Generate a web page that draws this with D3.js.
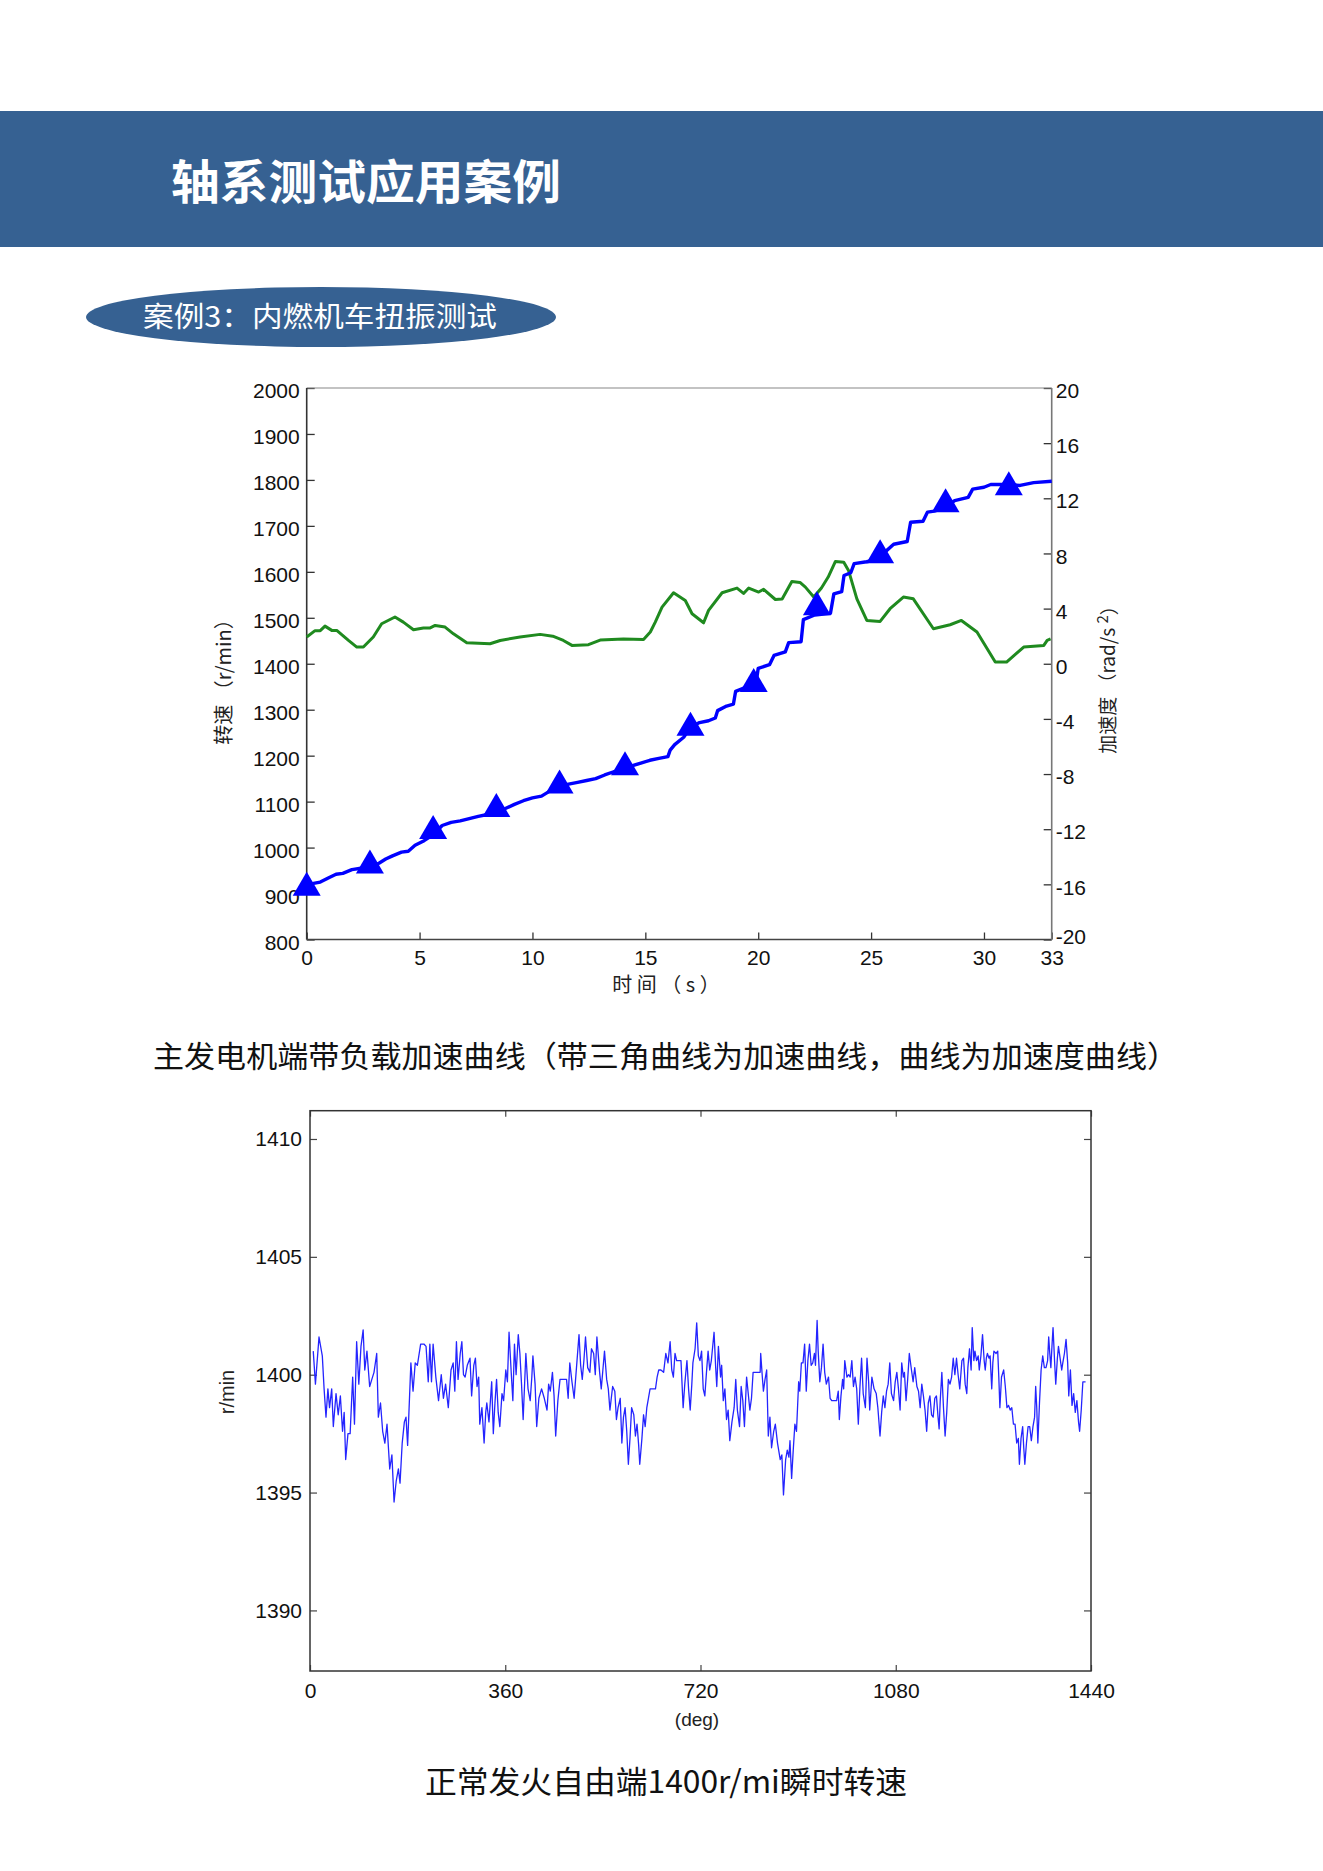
<!DOCTYPE html>
<html><head><meta charset="utf-8">
<script src="https://cdn.jsdelivr.net/npm/d3@7/dist/d3.min.js"></script>
<style>
html,body{margin:0;padding:0;background:#fff;}
svg{display:block;}
.tk text{font-family:"Liberation Sans",Arial,sans-serif;font-size:21px;fill:#111;}
.cjk{font-family:"Noto Sans CJK SC","Noto Sans",sans-serif;}
</style></head>
<body>
<svg id="page" width="1323" height="1871"></svg>
<script>
// ---------- Chart 1: acceleration run (time in s) ----------
const speedT = [0,0.3,0.6,1.0,1.3,1.6,2.0,2.4,2.8,3.2,3.5,3.8,4.2,4.5,4.8,5.2,5.6,6.0,6.4,6.8,7.2,7.6,8.0,8.4,8.8,9.2,9.6,10.0,10.4,10.8,11.2,11.6,12.0,12.4,12.8,13.2,13.6,14.0,14.4,14.8,15.2,15.6,16.0,16.1,16.3,16.7,17.0,17.4,17.8,18.1,18.2,18.6,18.9,19.0,19.5,19.9,20.0,20.5,20.7,21.2,21.35,21.9,22.0,22.5,23.2,23.35,23.7,23.8,24.1,24.25,24.8,25.4,25.5,26.0,26.6,26.75,27.3,27.5,27.8,28.3,28.7,29.3,29.5,30.0,30.3,31.0,31.6,32.2,33.0];
const speedV = [912,922,925,935,942,944,952,955,958,966,975,982,990,992,1005,1015,1028,1048,1055,1058,1063,1068,1072,1078,1085,1094,1102,1108,1112,1124,1132,1138,1142,1146,1150,1158,1165,1168,1178,1184,1190,1194,1198,1212,1224,1240,1262,1272,1276,1282,1298,1308,1312,1340,1350,1356,1390,1398,1418,1426,1446,1448,1496,1506,1510,1552,1557,1592,1598,1618,1622,1628,1638,1660,1666,1708,1710,1730,1732,1740,1755,1762,1780,1784,1790,1790,1788,1794,1797];
const markerT = [0,2.8,5.6,8.4,11.2,14.1,17.0,19.8,22.6,25.4,28.3,31.1];
const markerV = [915,963,1038,1086,1137,1177,1263,1358,1525,1638,1749,1786];
const accT = [0,0.37,0.6,0.81,1.11,1.33,1.85,2.22,2.51,2.95,3.32,3.91,4.28,4.73,5.17,5.47,5.69,6.13,6.5,7.09,8.12,8.57,9.45,10.34,10.9,11.37,11.75,12.48,13.0,14.03,14.92,15.22,15.44,15.74,16.25,16.77,17.07,17.58,17.8,18.4,19.06,19.35,19.58,20.02,20.24,20.76,21.06,21.49,21.85,22.09,22.46,22.8,23.1,23.42,23.79,24.0,24.37,24.81,25.4,25.84,26.43,26.87,27.76,28.5,29.0,29.69,30.5,31.0,31.76,32.65,32.8,32.95];
const accV = [1.94,2.4,2.4,2.73,2.42,2.42,1.69,1.21,1.21,1.94,2.9,3.39,3.02,2.47,2.59,2.6,2.78,2.66,2.17,1.52,1.45,1.69,1.94,2.13,2.0,1.69,1.33,1.38,1.72,1.8,1.76,2.3,3.02,4.11,5.15,4.59,3.63,2.97,3.87,5.15,5.49,5.1,5.49,5.2,5.4,4.66,4.7,5.97,5.9,5.56,4.84,5.5,6.29,7.42,7.37,6.77,4.71,3.14,3.07,3.99,4.84,4.71,2.54,2.83,3.14,2.3,0.12,0.12,1.21,1.33,1.7,1.8];
const timeTicks = [0,5,10,15,20,25,30,33];
const speedTicks = [800,900,1000,1100,1200,1300,1400,1500,1600,1700,1800,1900,2000];
const accTicks = [-20,-16,-12,-8,-4,0,4,8,12,16,20];

// ---------- Chart 2: instantaneous speed over crank angle ----------
const crankDeg = [6,10,16.6,22.7,26,29.5,33,36,40,43,48,52,56,60,63,65.8,70,74,78.7,82,86,90,94,98,101,105,110,114,118,123,126,130,134,138,142,147,151,155,159,163,166,170,174,177,180,186,190,194,198,204,210,214,218,221,224,227,232,237,242,246,250,255,260,264,267,270,273,277,280,283,286,290,295,298,302,305,308,311,313,317,321,324,326,330,335,338,341,344,347,350,354,357,361,364,367,371,374,377,380,384,387,390,393,398,402,406,409,411,415,418,422,427,432,437,440,443,447,450,453,457,461,466,470,473,476,479,483,487,492,496,499,502,505,508,512,516,519,523,526,529,534,537,540,543,547,550,553,558,562,565,568,572,575,578,581,584,587,590,593,597,600,603,606,608,612,615,618,621,624,627,632,637,640,643,647,652,656,660,664,667,670,673,676,680,684,688,691,695,698,701,704,706,710,713,716,719,722,725,728,731,734,737,740,745,748,750,753,757,759,762,765,768,771,774,778,782,785,788,792,795,798,801,805,808,811,814,817,823,830,831,834,836,839,842,845,848,851,855,858,862,867,870,873,877,880,883,885,888,891,894,897,901,903,906,909,912,915,918,921,924,927,930,932,935,937,940,943,946,949,952,956,959,962,967,971,974,976,979,982,984,986,990,993,996,999,1002,1005,1008,1011,1014,1017,1020,1024,1027,1030,1032,1036,1040,1044,1047,1051,1054,1057,1060,1063,1066,1069,1072,1076,1079,1082,1085,1088,1091,1094,1096,1099,1102,1105,1109,1112,1115,1119,1122,1125,1128,1131,1134,1137,1140,1143,1146,1149,1152,1155,1158,1160,1162,1165,1168,1171,1174,1177,1180,1183,1186,1189,1192,1195,1198,1202,1205,1208,1211,1213,1216,1219,1221,1224,1226,1229,1232,1234,1237,1240,1243,1245,1247,1249,1252,1254,1257,1259,1261,1265,1268,1270,1272,1275,1279,1282,1285,1288,1291,1294,1297,1300,1303,1306,1308,1311,1314,1316,1318,1321,1324,1327,1330,1333,1336,1338,1340,1342,1345,1348,1351,1354,1357,1360,1362,1364,1366,1368,1370,1373,1375,1378,1380,1383,1386,1388,1391,1394,1397,1399,1402,1405,1408,1411,1414,1417,1419,1422,1425,1430];
const crankRpm = [1401.0,1399.6,1401.6,1400.8,1399.4,1398.2,1399.4,1398.6,1399.4,1397.8,1399.2,1398.3,1399.1,1397.6,1398.4,1396.4,1397.5,1397.5,1399.9,1397.9,1401.4,1399.6,1401.2,1401.9,1400.2,1401.0,1399.5,1399.8,1400.1,1400.9,1398.2,1398.8,1397.6,1397.1,1397.9,1396.0,1396.6,1394.6,1395.5,1396.0,1395.4,1397.1,1398.0,1398.2,1397.0,1400.5,1399.3,1400.5,1400.4,1401.3,1401.3,1401.2,1399.7,1401.3,1399.7,1401.3,1399.9,1398.9,1400.0,1399.0,1399.6,1398.6,1400.2,1400.5,1399.3,1401.4,1399.8,1400.9,1401.4,1400.0,1399.9,1400.4,1400.7,1399.1,1400.4,1400.7,1399.5,1399.9,1397.9,1398.6,1397.1,1398.4,1398.8,1398.0,1399.7,1397.5,1398.8,1399.8,1398.4,1397.8,1399.2,1398.9,1400.2,1399.7,1401.8,1400.1,1398.9,1401.3,1400.0,1401.7,1400.9,1399.6,1398.1,1400.9,1399.4,1398.9,1399.9,1400.8,1399.6,1397.8,1399.0,1399.4,1399.0,1398.5,1399.6,1399.3,1400.1,1399.1,1397.4,1398.9,1399.8,1399.8,1399.8,1399.8,1399.0,1400.5,1399.7,1399.0,1400.5,1401.7,1400.4,1399.8,1400.6,1401.6,1400.3,1400.1,1401.1,1400.9,1400.0,1401.6,1400.1,1399.4,1400.2,1401.0,1399.8,1399.4,1398.5,1399.5,1399.3,1398.1,1398.6,1399.0,1397.1,1398.2,1398.6,1397.6,1396.2,1397.3,1398.6,1398.3,1397.4,1397.9,1397.0,1396.2,1397.3,1398.3,1397.8,1398.6,1399.0,1399.4,1399.4,1399.4,1399.9,1400.2,1400.2,1400.1,1400.9,1400.5,1401.4,1400.2,1399.9,1400.9,1400.6,1400.6,1400.6,1398.6,1399.6,1400.6,1399.4,1398.5,1399.6,1400.5,1401.1,1402.2,1400.8,1400.6,1401.0,1399.4,1399.1,1400.1,1401.0,1400.2,1400.6,1401.8,1400.3,1399.5,1401.2,1399.9,1400.4,1398.9,1399.4,1398.1,1398.5,1397.2,1398.0,1398.6,1399.8,1398.5,1397.8,1399.5,1398.9,1397.8,1399.9,1399.2,1398.5,1399.0,1400.1,1400.1,1400.1,1400.9,1399.9,1399.3,1399.8,1400.2,1397.4,1398.2,1396.9,1397.6,1397.9,1397.1,1396.4,1396.6,1394.9,1396.4,1396.8,1396.5,1397.2,1395.6,1396.8,1397.9,1397.6,1399.7,1399.3,1400.5,1400.5,1401.3,1399.3,1400.6,1401.3,1400.4,1400.5,1400.9,1400.4,1402.3,1401.0,1399.7,1400.3,1401.3,1400.1,1399.6,1399.9,1399.0,1398.9,1398.9,1398.9,1399.3,1398.1,1399.1,1399.8,1399.4,1400.6,1399.9,1400.0,1399.9,1400.6,1399.5,1399.9,1399.4,1397.9,1399.5,1400.7,1399.2,1398.6,1400.7,1399.7,1398.5,1399.9,1399.4,1399.2,1398.6,1397.4,1398.4,1399.1,1398.6,1399.3,1399.6,1400.5,1399.2,1398.9,1399.7,1400.1,1399.4,1398.5,1400.5,1399.9,1400.1,1398.9,1399.8,1400.9,1400.2,1399.7,1400.3,1399.5,1399.3,1398.6,1399.6,1399.1,1398.5,1397.6,1398.8,1399.1,1398.3,1398.2,1399.0,1399.1,1398.2,1397.7,1398.9,1400.1,1398.6,1397.4,1398.4,1399.8,1399.6,1399.9,1400.7,1400.0,1400.7,1400.0,1399.4,1400.6,1400.7,1399.6,1399.2,1400.3,1401.1,1400.2,1402.0,1400.6,1401.0,1400.6,1400.8,1400.2,1400.8,1401.7,1400.6,1400.2,1400.7,1400.9,1400.7,1400.8,1399.4,1400.5,1401.0,1400.9,1401.0,1399.9,1398.6,1399.9,1400.2,1399.5,1398.6,1398.7,1398.5,1398.6,1397.9,1397.9,1397.1,1397.3,1396.2,1397.3,1397.8,1396.9,1396.2,1397.1,1397.8,1397.8,1397.2,1397.8,1398.2,1399.5,1398.6,1397.1,1398.8,1400.2,1400.8,1400.3,1400.3,1400.6,1401.6,1400.9,1400.3,1401.2,1402.0,1400.5,1399.6,1400.7,1401.2,1400.7,1400.2,1400.5,1400.9,1401.5,1400.5,1399.1,1400.2,1398.7,1399.2,1398.4,1398.9,1398.0,1397.6,1398.5,1399.7,1399.7];
const degTicks = [0,360,720,1080,1440];
const rpmTicks = [1390,1395,1400,1405,1410];

// ---------- Text ----------
const pageTitle = "轴系测试应用案例";
const caseTitle = "案例3：内燃机车扭振测试";
const caption1 = "主发电机端带负载加速曲线（带三角曲线为加速曲线，曲线为加速度曲线）";
const caption2 = "正常发火自由端1400r/mi瞬时转速";

const svg = d3.select("#page");
const fmt = d => String(d);

// header band
svg.append("rect").attr("x",0).attr("y",111).attr("width",1323).attr("height",136).attr("fill","#366192");
svg.append("text").attr("class","cjk").attr("x",171).attr("y",182).attr("dy","0.36em")
  .attr("font-size",47).attr("font-weight","bold").attr("fill","#fff")
  .attr("textLength",390).attr("lengthAdjust","spacingAndGlyphs").text(pageTitle);

// case ellipse
svg.append("ellipse").attr("cx",321).attr("cy",317).attr("rx",235).attr("ry",30).attr("fill","#366192");
svg.append("text").attr("class","cjk").attr("x",143).attr("y",317).attr("dy","0.36em")
  .attr("font-size",28).attr("fill","#fff")
  .attr("textLength",354).attr("lengthAdjust","spacingAndGlyphs").text(caseTitle);

// ---------- chart 1 ----------
const x1 = d3.scaleLinear().domain([0,33]).range([306.7,1051.7]);
const yL = d3.scaleLinear().domain([800,2000]).range([939.5,388]);
const yR = d3.scaleLinear().domain([-20,20]).range([939.5,388]);
const c1 = svg.append("g");

const gl = c1.append("g").attr("class","tk").attr("transform","translate(306.7,0)")
  .call(d3.axisLeft(yL).tickValues(speedTicks).tickSize(-8).tickPadding(7).tickFormat(fmt));
const gr = c1.append("g").attr("class","tk").attr("transform","translate(1051.7,0)")
  .call(d3.axisRight(yR).tickValues(accTicks).tickSize(-8).tickPadding(4).tickFormat(fmt));
const gb = c1.append("g").attr("class","tk").attr("transform","translate(0,939.5)")
  .call(d3.axisBottom(x1).tickValues(timeTicks).tickSize(-7).tickPadding(11).tickFormat(fmt));
[gl,gr,gb].forEach(g=>{g.select(".domain").remove(); g.selectAll(".tick line").attr("stroke","#333").attr("stroke-width",1.3);});
gl.selectAll("text").attr("dy","0.46em");
gr.selectAll("text").attr("dy",d => d === -20 ? "0.2em" : "0.46em");

// frame
c1.append("line").attr("x1",306.7).attr("x2",1051.7).attr("y1",388).attr("y2",388).attr("stroke","#888").attr("stroke-width",1.2);
c1.append("line").attr("x1",306.7).attr("x2",306.7).attr("y1",388).attr("y2",939.5).attr("stroke","#333").attr("stroke-width",1.6);
c1.append("line").attr("x1",306.7).attr("x2",1051.7).attr("y1",939.5).attr("y2",939.5).attr("stroke","#444").attr("stroke-width",1.6);
c1.append("line").attr("x1",1051.7).attr("x2",1051.7).attr("y1",388).attr("y2",939.5).attr("stroke","#777").attr("stroke-width",1.6);

// green acceleration
c1.append("path").datum(accT.map((t,i)=>[t,accV[i]]))
  .attr("fill","none").attr("stroke","#1f8a1f").attr("stroke-width",3).attr("stroke-linejoin","round")
  .attr("d",d3.line().x(d=>x1(d[0])).y(d=>yR(d[1])));
// blue speed
c1.append("path").datum(speedT.map((t,i)=>[t,speedV[i]]))
  .attr("fill","none").attr("stroke","#0000ff").attr("stroke-width",3.4).attr("stroke-linejoin","round")
  .attr("d",d3.line().x(d=>x1(d[0])).y(d=>yL(d[1])));
// triangles
const tri = "M0,-15L14,9L-14,9Z";
c1.selectAll("path.mk").data(markerT.map((t,i)=>[t,markerV[i]])).join("path").attr("class","mk")
  .attr("d",tri).attr("fill","#0000ff")
  .attr("transform",d=>`translate(${x1(d[0])},${yL(d[1])})`);

// axis titles
c1.append("text").attr("class","cjk").attr("transform","translate(224,677) rotate(-90)")
  .attr("text-anchor","middle").attr("dy","0.36em").attr("font-size",20).attr("fill","#222")
  .text("转速 （r/min）");
const rt = c1.append("text").attr("class","cjk").attr("transform","translate(1108,675) rotate(-90)")
  .attr("text-anchor","middle").attr("dy","0.36em").attr("font-size",19).attr("fill","#222");
rt.append("tspan").text("加速度 （rad/s ");
rt.append("tspan").attr("dy","-0.45em").attr("font-size",15).text("2");
rt.append("tspan").attr("dy","0.45em").text("）");
c1.append("text").attr("class","cjk").attr("x",666).attr("y",985).attr("dy","0.36em")
  .attr("text-anchor","middle").attr("font-size",20).attr("fill","#222").text("时 间  （ s ）");

// caption 1
svg.append("text").attr("class","cjk").attr("x",153).attr("y",1056).attr("dy","0.36em")
  .attr("font-size",30).attr("fill","#111").attr("textLength",1025).attr("lengthAdjust","spacingAndGlyphs")
  .text(caption1);

// ---------- chart 2 ----------
const x2 = d3.scaleLinear().domain([0,1440]).range([310,1091]);
const y2 = d3.scaleLinear().domain([1387.43,1411.2]).range([1671,1110.7]);
const c2 = svg.append("g");
const hl = c2.append("g").attr("class","tk").attr("transform","translate(310,0)")
  .call(d3.axisLeft(y2).tickValues(rpmTicks).tickSize(-7).tickPadding(8).tickFormat(fmt));
const hr = c2.append("g").attr("class","tk").attr("transform","translate(1091,0)")
  .call(d3.axisRight(y2).tickValues(rpmTicks).tickSize(-7).tickFormat(""));
const hb = c2.append("g").attr("class","tk").attr("transform","translate(0,1671)")
  .call(d3.axisBottom(x2).tickValues(degTicks).tickSize(-6).tickPadding(12).tickFormat(fmt));
const ht = c2.append("g").attr("class","tk").attr("transform","translate(0,1110.7)")
  .call(d3.axisTop(x2).tickValues(degTicks).tickSize(-6).tickFormat(""));
[hl,hr,hb,ht].forEach(g=>{g.select(".domain").remove(); g.selectAll(".tick line").attr("stroke","#444").attr("stroke-width",1.2);});
c2.append("rect").attr("x",310).attr("y",1110.7).attr("width",781).attr("height",560.3)
  .attr("fill","none").attr("stroke","#333").attr("stroke-width",1.5);
c2.append("path").datum(crankDeg.map((d,i)=>[d,crankRpm[i]]))
  .attr("fill","none").attr("stroke","#2424ff").attr("stroke-width",1.3).attr("stroke-linejoin","round")
  .attr("d",d3.line().x(d=>x2(d[0])).y(d=>y2(d[1])));
c2.append("text").attr("transform","translate(227,1392) rotate(-90)").attr("text-anchor","middle").attr("dy","0.36em")
  .attr("font-family","Liberation Sans, Arial, sans-serif").attr("font-size",20).attr("fill","#222").text("r/min");
c2.append("text").attr("x",697).attr("y",1719).attr("dy","0.36em").attr("text-anchor","middle")
  .attr("font-family","Liberation Sans, Arial, sans-serif").attr("font-size",19).attr("fill","#222").text("(deg)");

// caption 2
svg.append("text").attr("class","cjk").attr("x",425).attr("y",1782).attr("dy","0.36em")
  .attr("font-size",31).attr("fill","#111").attr("textLength",482).attr("lengthAdjust","spacingAndGlyphs")
  .text(caption2);
</script>
</body></html>
